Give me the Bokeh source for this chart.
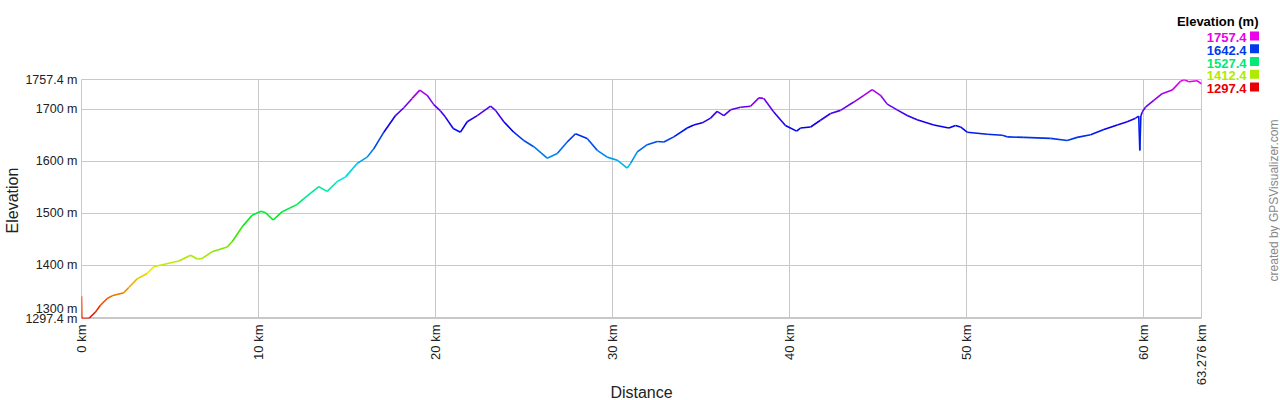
import colorsys
from math import pi
from bokeh.plotting import figure
from bokeh.layouts import column
from bokeh.models import FixedTicker, Range1d, CustomJSTickFormatter, ColumnDataSource
from bokeh.core.properties import value
from bokeh.embed import file_html
from bokeh.resources import INLINE

distance_km = [
    0.00, 0.02, 0.41, 0.79, 1.07, 1.45, 1.73, 2.39, 2.67, 3.15, 3.71, 4.08, 4.56, 5.50,
    6.16, 6.54, 6.82, 7.38, 8.23, 8.51, 9.08, 9.64, 10.15, 10.40, 10.83, 11.34, 12.19,
    12.56, 13.41, 13.88, 14.45, 14.92, 15.58, 16.14, 16.51, 17.08, 17.74, 18.21, 18.68,
    19.11, 19.53, 19.90, 20.28, 20.56, 21.00, 21.41, 21.79, 22.36, 23.11, 23.39, 23.86,
    24.42, 24.99, 25.55, 26.31, 26.88, 27.44, 27.91, 28.57, 29.14, 29.70, 30.27, 30.83,
    31.02, 31.40, 31.96, 32.53, 32.90, 33.46, 34.22, 34.59, 35.07, 35.54, 35.91, 36.29,
    36.67, 37.23, 37.80, 38.27, 38.55, 39.11, 39.77, 40.40, 40.62, 41.19, 41.75, 42.32,
    42.88, 43.63, 44.20, 44.67, 45.14, 45.52, 46.08, 46.65, 47.21, 48.15, 49.00, 49.38,
    49.66, 50.04, 51.17, 52.02, 52.30, 53.24, 54.75, 55.69, 56.25, 57.01, 57.76, 58.52,
    59.08, 59.55, 59.73, 59.79, 59.85, 59.93, 60.11, 60.58, 61.05, 61.62, 62.09, 62.30,
    62.55, 63.03, 63.276,
]
elevation_m = [
    1340, 1297.4, 1297.4, 1310, 1323, 1336, 1341, 1347, 1357, 1374, 1384, 1397, 1401, 1408,
    1419, 1412, 1413, 1426, 1435, 1445, 1474, 1496, 1504, 1501, 1487, 1503, 1517,
    1528, 1551, 1542, 1561, 1570, 1596, 1608, 1624, 1656, 1688, 1703, 1721,
    1737, 1727, 1709, 1697, 1685, 1663, 1656, 1676, 1688, 1706, 1698, 1676,
    1656, 1640, 1628, 1606, 1615, 1637, 1653, 1644, 1621, 1608, 1602, 1587,
    1596, 1618, 1632, 1638, 1637, 1647, 1664, 1670, 1674, 1683, 1696, 1688,
    1699, 1704, 1706, 1722, 1721, 1695, 1669, 1658, 1664, 1666, 1679, 1692,
    1698, 1714, 1727, 1738, 1727, 1710, 1699, 1688, 1680, 1670, 1664, 1669,
    1666, 1656, 1652, 1650, 1647, 1646, 1644, 1640, 1646, 1651, 1661, 1670,
    1676, 1683, 1687, 1621, 1687, 1695, 1704, 1717, 1730, 1737, 1754, 1757.4,
    1753, 1755, 1749,
]
x_ticks = [0, 10, 20, 30, 40, 50, 60, 63.276]
x_grid = [10, 20, 30, 40, 50, 60]
y_ticks = [1297.4, 1400, 1500, 1600, 1700, 1757.4]
y_grid = [1300, 1400, 1500, 1600, 1700]
y_extra_tick = 1300
legend_title = "Elevation (m)"
legend_values = [1757.4, 1642.4, 1527.4, 1412.4, 1297.4]

EMIN, EMAX = 1297.4, 1757.4
XMAX = 63.276


def elev_color(e):
    f = (e - EMIN) / (EMAX - EMIN)
    r, g, b = colorsys.hsv_to_rgb(f * 300 / 360, 1, 0.92)
    return "#%02x%02x%02x" % (int(r * 255), int(g * 255), int(b * 255))


W, H = 1280, 400
FL, FT, FW, FH = 81, 79, 1120, 239
FONT = "Liberation Sans"

p = figure(width=W, height=H, output_backend="svg", toolbar_location=None,
           x_range=Range1d(0, XMAX), y_range=Range1d(EMIN, EMAX),
           min_border_left=FL, min_border_right=W - FL - FW,
           min_border_top=FT, min_border_bottom=H - FT - FH)
p.background_fill_color = "white"
p.border_fill_color = "white"
p.outline_line_color = "#c8c8c8"
p.outline_line_width = 1

# x axis
p.xaxis.ticker = FixedTicker(ticks=x_ticks)
p.xaxis.formatter = CustomJSTickFormatter(code="return tick + ' km'")
p.xaxis.major_label_orientation = pi / 2
p.xaxis.axis_line_color = None
p.xaxis.major_tick_line_color = None
p.xaxis.major_tick_out = 0
p.xaxis.major_tick_in = 0
p.xaxis.minor_tick_line_color = None
p.xaxis.major_label_standoff = 6
p.xaxis.major_label_text_font = FONT
p.xaxis.major_label_text_font_size = "13px"
p.xaxis.major_label_text_color = "#222222"

# y axis
p.yaxis.ticker = FixedTicker(ticks=y_ticks)
p.yaxis.formatter = CustomJSTickFormatter(code="return tick + ' m'")
p.yaxis.axis_line_color = None
p.yaxis.major_tick_line_color = None
p.yaxis.major_tick_out = 0
p.yaxis.major_tick_in = 0
p.yaxis.minor_tick_line_color = None
p.yaxis.major_label_standoff = 4
p.yaxis.major_label_text_font = FONT
p.yaxis.major_label_text_font_size = "12.5px"
p.yaxis.major_label_text_color = "#222222"

p.xgrid.ticker = FixedTicker(ticks=x_grid)
p.ygrid.ticker = FixedTicker(ticks=y_grid)
p.xgrid.grid_line_color = "#c8c8c8"
p.ygrid.grid_line_color = "#c8c8c8"

# elevation profile, coloured by elevation
src = ColumnDataSource(dict(
    x0=distance_km[:-1], x1=distance_km[1:],
    y0=elevation_m[:-1], y1=elevation_m[1:],
    c=[elev_color((a + b) / 2) for a, b in zip(elevation_m[:-1], elevation_m[1:])],
))
p.segment(x0="x0", y0="y0", x1="x1", y1="y1", line_color="c", line_width=1.6, source=src)

# transparent overlay canvas (pixel coordinates) for texts outside the plot frame
ov = figure(width=W, height=H, output_backend="svg", toolbar_location=None,
            x_range=Range1d(0, W), y_range=Range1d(H, 0), min_border=0,
            min_border_left=0, min_border_right=0, min_border_top=0, min_border_bottom=0,
            x_axis_type=None, y_axis_type=None)
ov.background_fill_color = None
ov.border_fill_color = None
ov.outline_line_color = None
ov.xgrid.visible = False
ov.ygrid.visible = False


def px_y(e):  # elevation -> canvas pixel y (for the offset 1300 m label)
    return FT + (EMAX - e) / (EMAX - EMIN) * FH


ov.text(x=[FL - 4], y=[px_y(y_extra_tick) - 8], text=["%d m" % y_extra_tick],
        text_align="right", text_baseline="middle", text_font=value(FONT),
        text_font_size="12.5px", text_color="#222222")

ov.text(x=[12], y=[200], text=["Elevation"], angle=pi / 2, text_align="center",
        text_baseline="middle", text_font=value(FONT), text_font_size="16px",
        text_color="#222222")
ov.text(x=[FL + FW / 2], y=[392], text=["Distance"], text_align="center",
        text_baseline="middle", text_font=value(FONT), text_font_size="16px",
        text_color="#222222")
ov.text(x=[1273], y=[200], text=["created by GPSVisualizer.com"], angle=pi / 2,
        text_align="center", text_baseline="middle", text_font=value(FONT),
        text_font_size="12px", text_color="#888888")

# legend
ov.text(x=[1258], y=[21], text=[legend_title], text_align="right", text_baseline="middle",
        text_font=value(FONT), text_font_size="13px", text_font_style="bold",
        text_color="#000000")
rows = [37 + 12.75 * i for i in range(len(legend_values))]
lcols = [elev_color(v) for v in legend_values]
ov.text(x=[1246] * len(legend_values), y=rows, text=["%.1f" % v for v in legend_values],
        text_align="right", text_baseline="middle", text_font=value(FONT),
        text_font_size="13px", text_font_style="bold", text_color=lcols)
ov.rect(x=[1254] * len(legend_values), y=[r - 1.5 for r in rows], width=9, height=9,
        fill_color=lcols, line_color=None)

inner = column(ov, spacing=0, margin=(-H, 0, 0, 0))
layout = column(p, inner, spacing=0)
open("out.html", "w").write(file_html(layout, INLINE))
